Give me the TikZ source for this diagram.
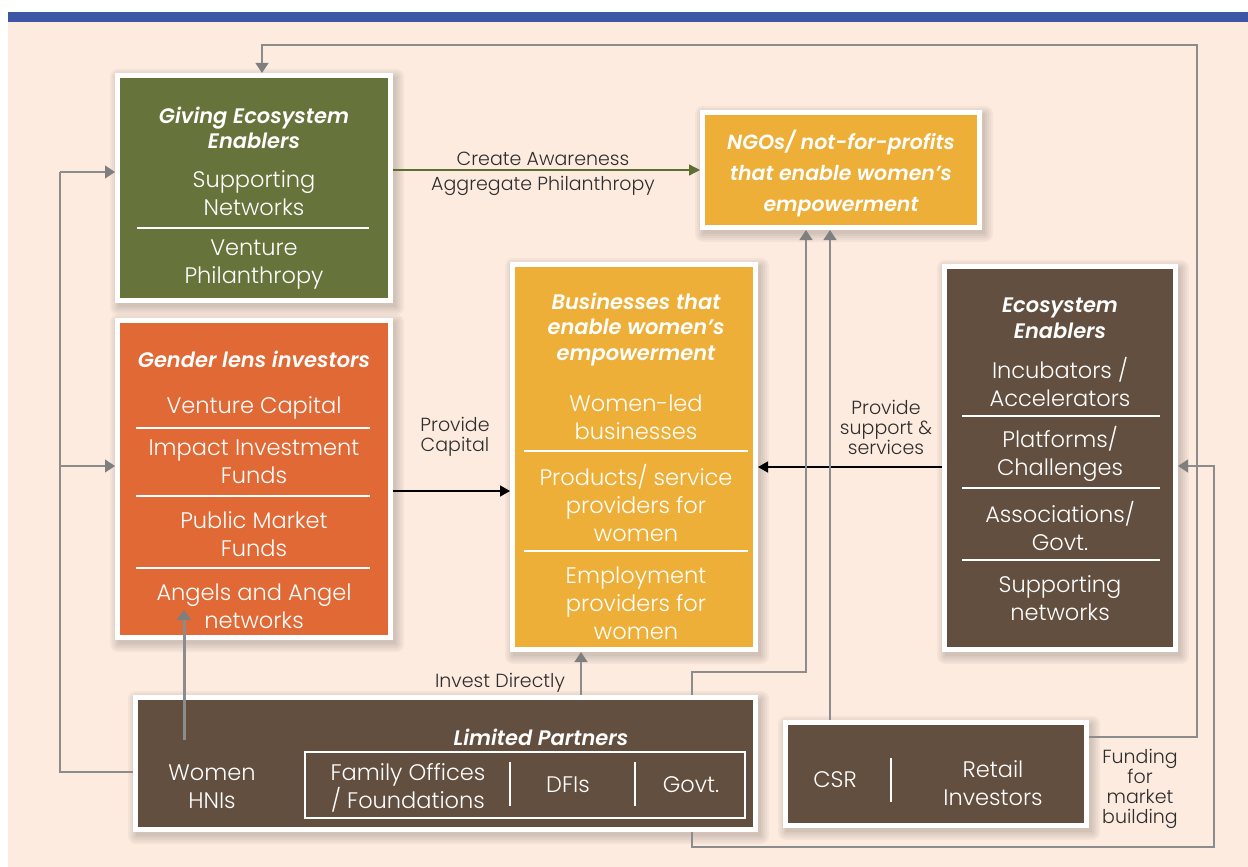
\documentclass[tikz,border=0pt]{standalone}
\usepackage{fontspec}
\setmainfont{Poppins}[UprightFont=* Light, BoldItalicFont=* SemiBold Italic]
\usetikzlibrary{arrows.meta}
\definecolor{peach}{HTML}{FDEBDF}
\definecolor{topblue}{HTML}{3C55A5}
\definecolor{gboxc}{HTML}{66733A}
\definecolor{oboxc}{HTML}{E06936}
\definecolor{yboxc}{HTML}{EEAF38}
\definecolor{bboxc}{HTML}{634F3F}
\definecolor{glinec}{HTML}{8C8C8C}
\definecolor{garrc}{HTML}{7F7F7F}
\definecolor{greenarr}{HTML}{5C6E33}
\definecolor{lblc}{HTML}{2E2E2E}
\pgfdeclarelayer{bglayer}
\pgfdeclarelayer{shadowlayer}
\pgfsetlayers{bglayer,shadowlayer,main}
\newcommand{\boxshadow}[1]{%
  \begin{pgfonlayer}{shadowlayer}
  \foreach \e in {0,2,4,6,8}{
    \fill[black, opacity=0.035, rounded corners=\e pt]
      ([shift={({3-\e},{4-\e})}]#1.north west) rectangle ([shift={({3+\e},{4+\e})}]#1.south east);
  }
  \end{pgfonlayer}}
\tikzset{
  bigbox/.style={draw=white, line width=5pt, inner sep=0pt},
  itemtxt/.style={text=white, align=center, font=\fontsize{22.5}{28}\selectfont, inner sep=0pt},
  headtxt/.style={text=white, align=center, font=\fontsize{21}{25.5}\selectfont\bfseries\itshape, inner sep=0pt},
  lbltxt/.style={text=lblc, align=center, font=\fontsize{19}{20}\selectfont, inner sep=0pt},
  sepline/.style={draw=white, line width=1.4pt},
  gline/.style={draw=glinec, line width=1.2pt},
  garrow/.style={draw=glinec, line width=1.2pt, -{Triangle[width=13pt,length=10pt,color=garrc]}},
  barrow/.style={draw=black, line width=1.4pt, -{Triangle[width=11pt,length=10pt]}},
  grarrow/.style={draw=greenarr, line width=1.4pt, -{Triangle[width=11pt,length=11pt]}},
}
\begin{document}
\begin{tikzpicture}[x=1pt,y=-1pt]
\useasboundingbox (0,0) rectangle (1248,867);
\begin{pgfonlayer}{bglayer}
\fill[white] (0,0) rectangle (1248,867);
\fill[peach] (8,22) rectangle (1248,867);
\fill[topblue] (8,12) rectangle (1248,22);
\end{pgfonlayer}

% boxes
\node[bigbox, fill=gboxc, minimum width=273pt, minimum height=225pt] (giving) at (254,188) {};
\node[bigbox, fill=yboxc, minimum width=277pt, minimum height=115pt] (ngo) at (841,170) {};
\node[bigbox, fill=yboxc, minimum width=243pt, minimum height=385pt] (biz) at (634,457) {};
\node[bigbox, fill=oboxc, minimum width=273pt, minimum height=317pt] (gender) at (254,479) {};
\node[bigbox, fill=bboxc, minimum width=231pt, minimum height=383pt] (eco) at (1060,458) {};
\node[bigbox, fill=bboxc, minimum width=620pt, minimum height=132pt] (lp) at (445.5,763.5) {};
\node[bigbox, fill=bboxc, minimum width=301pt, minimum height=103pt] (csr) at (936,774) {};
\boxshadow{giving}\boxshadow{ngo}\boxshadow{biz}\boxshadow{gender}
\boxshadow{eco}\boxshadow{lp}\boxshadow{csr}

% Giving ecosystem enablers
\node[headtxt] (givh) at (254,128) {Giving Ecosystem\\Enablers};
\node[itemtxt] (giv1) at (254,193.5) {Supporting\\Networks};
\draw[sepline] (137,228) -- (369,228);
\node[itemtxt] (giv2) at (254,265) {Venture\\Philanthropy};

% NGOs
\node[headtxt, font=\fontsize{20.5}{31}\selectfont\bfseries\itshape] (ngoh) at (841,173) {NGOs/ not-for-profits\\that enable women’s\\empowerment};

% Gender lens investors
\node[headtxt] (genh) at (254,359) {Gender lens investors};
\node[itemtxt] (gen1) at (254,408) {Venture Capital};
\draw[sepline] (136,428) -- (370,428);
\node[itemtxt] (gen2) at (254,462) {Impact Investment\\Funds};
\draw[sepline] (136,496) -- (370,496);
\node[itemtxt] (gen3) at (254,534) {Public Market\\Funds};
\draw[sepline] (136,568) -- (370,568);
\node[itemtxt] (gen4) at (254,606) {Angels and Angel\\networks};

% Businesses
\node[headtxt] (bizh) at (636,329.5) {Businesses that\\enable women’s\\empowerment};
\node[itemtxt] (biz1) at (636,417) {Women-led\\businesses};
\draw[sepline] (524,451) -- (748,451);
\node[itemtxt] (biz2) at (636,503) {Products/ service\\providers for\\women};
\draw[sepline] (524,551) -- (748,551);
\node[itemtxt] (biz3) at (636,603) {Employment\\providers for\\women};

% Ecosystem enablers
\node[headtxt] (ecoh) at (1060,318.5) {Ecosystem\\Enablers};
\node[itemtxt] (eco1) at (1060,382) {Incubators /\\Accelerators};
\draw[sepline] (962,416) -- (1160,416);
\node[itemtxt] (eco2) at (1060,454) {Platforms/\\Challenges};
\draw[sepline] (962,488) -- (1160,488);
\node[itemtxt] (eco3) at (1060,526) {Associations/\\Govt.};
\draw[sepline] (962,560) -- (1160,560);
\node[itemtxt] (eco4) at (1060,598) {Supporting\\networks};

% Limited partners
\node[headtxt] (lph) at (541,737) {Limited Partners};
\node[itemtxt] (hni) at (212,787) {Women\\HNIs};
\draw[draw=white, line width=1.2pt] (305,752) rectangle (745,818);
\node[itemtxt] (fam) at (408,787.5) {Family Offices\\/ Foundations};
\draw[sepline] (510,762) -- (510,806);
\node[itemtxt] (dfi) at (568,785) {DFIs};
\draw[sepline] (635,762) -- (635,806);
\node[itemtxt] (gov) at (691,785) {Govt.};

% CSR / Retail
\node[itemtxt] (csrt) at (835,780) {CSR};
\draw[sepline] (891,758) -- (891,802);
\node[itemtxt] (ret) at (993,783) {Retail\\Investors};

% labels
\node[lbltxt] (l1) at (543,159) {Create Awareness};
\node[lbltxt] (l2) at (543,186) {Aggregate Philanthropy};
\node[lbltxt] (l3) at (455,437) {Provide\\Capital};
\node[lbltxt] (l4) at (886,427) {Provide\\support \&\\services};
\node[lbltxt] (l5) at (500,683) {Invest Directly};
\node[lbltxt] (l6) at (1140,789) {Funding\\for\\market\\building};

% connectors
\draw[grarrow] (giving.east |- ngo.west) -- (ngo.west);
\draw[barrow] ([yshift=-12pt]gender.east) -- ([yshift=-12pt]gender.east -| biz.west);
\draw[barrow] ([yshift=-9pt]eco.west) -- ([yshift=-9pt]eco.west -| biz.east);

\coordinate (lx1) at (60,772);
\coordinate (lx2) at (60,172);
\draw[gline] ([yshift=-8.5pt]lp.west) -- (lx1) -- (lx2);
\draw[garrow] (lx2) -- ([yshift=16pt]giving.west);
\coordinate (lx3) at (60,466);
\draw[garrow] (lx3) -- ([yshift=13pt]gender.west);

\coordinate (tr1) at (1197,737);
\coordinate (tr2) at (1197,45);
\coordinate (tr3) at (262,45);
\draw[garrow] ([yshift=37pt]csr.east) -- (tr1) -- (tr2) -- (tr3) -- ([xshift=8pt]giving.north);

\coordinate (br1) at (692,847);
\coordinate (br2) at (1214,847);
\coordinate (br3) at (1214,466);
\draw[garrow] ([xshift=246.5pt]lp.south) -- (br1) -- (br2) -- (br3) -- ([yshift=-8pt]eco.east);

\coordinate (nr1) at (692,672);
\coordinate (nr2) at (806,672);
\draw[garrow] ([xshift=246.5pt]lp.north) -- (nr1) -- (nr2) -- ([xshift=-35pt]ngo.south);
\draw[garrow] ([xshift=-106pt]csr.north) -- ([xshift=-11pt]ngo.south);

\draw[garrow] ([xshift=135.5pt]lp.north) -- ([xshift=-53pt]biz.south);

\coordinate (hnib) at (184,740);
\coordinate (hnit) at (184,610);
\draw[draw=glinec, line width=3pt, -{Triangle[width=14pt,length=10pt,color=garrc]}] (hnib) -- (hnit);
\end{tikzpicture}
\end{document}
